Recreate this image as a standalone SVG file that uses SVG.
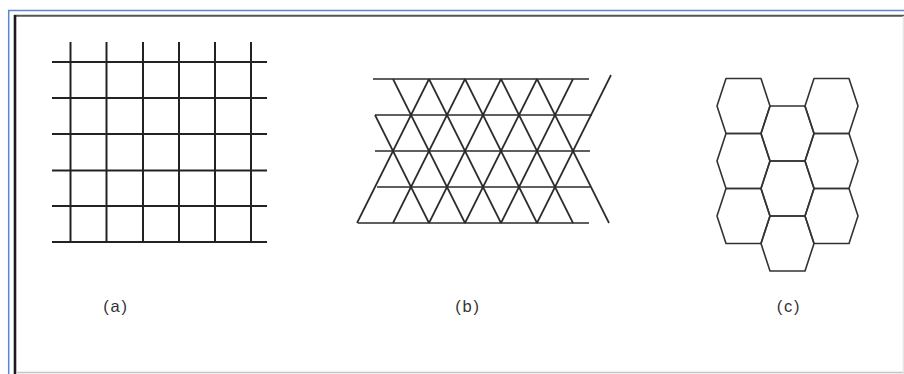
<svg xmlns="http://www.w3.org/2000/svg" width="904" height="374" viewBox="0 0 904 374">
<style>
.sq line{stroke:#222;stroke-width:2;}
.tri line{stroke:#2a2a2a;stroke-width:1.7;}
.hex polygon{fill:none;stroke:#333;stroke-width:1.6;stroke-linejoin:round;}
.lbl{font-family:"Liberation Sans",Arial,sans-serif;font-size:16.5px;fill:#333;letter-spacing:1.8px;text-anchor:middle;}
</style>
<rect width="904" height="374" fill="#fff"/>
<g id="frame" fill="none">
<line x1="8" y1="10.5" x2="904" y2="10.5" stroke="#5b86d6" stroke-width="1.5"/>
<line x1="8.7" y1="10" x2="8.7" y2="374" stroke="#5b86d6" stroke-width="1.5"/>
<line x1="14" y1="15.7" x2="904" y2="15.7" stroke="#555" stroke-width="2"/>
<line x1="15" y1="15" x2="15" y2="374" stroke="#1a1a1a" stroke-width="2.6"/>
<line x1="16" y1="372.5" x2="904" y2="372.5" stroke="#c4c4c4" stroke-width="1.5"/>
<line x1="903.3" y1="16" x2="903.3" y2="374" stroke="#e4e4e4" stroke-width="1.2"/>
</g>
<g id="square-grid" class="sq">
<line x1="70.5" y1="42" x2="70.5" y2="242"/>
<line x1="106.5" y1="42" x2="106.5" y2="242"/>
<line x1="143" y1="42" x2="143" y2="242"/>
<line x1="179" y1="42" x2="179" y2="242"/>
<line x1="215" y1="42" x2="215" y2="242"/>
<line x1="251" y1="42" x2="251" y2="242"/>
<line x1="52" y1="62" x2="267" y2="62"/>
<line x1="52" y1="98" x2="267" y2="98"/>
<line x1="52" y1="134" x2="267" y2="134"/>
<line x1="52" y1="170.5" x2="267" y2="170.5"/>
<line x1="52" y1="206" x2="267" y2="206"/>
<line x1="52" y1="242" x2="267" y2="242"/>
</g>
<g id="triangle-grid" class="tri">
<line x1="373" y1="79" x2="589" y2="79"/>
<line x1="375" y1="115" x2="592" y2="115"/>
<line x1="375" y1="151" x2="590" y2="151"/>
<line x1="377" y1="187" x2="590" y2="187"/>
<line x1="358" y1="223" x2="589" y2="223"/>
<line x1="429" y1="79" x2="357" y2="223"/>
<line x1="465" y1="79" x2="393" y2="223"/>
<line x1="501" y1="79" x2="429" y2="223"/>
<line x1="537" y1="79" x2="465" y2="223"/>
<line x1="573" y1="79" x2="501" y2="223"/>
<line x1="611" y1="75" x2="537" y2="223"/>
<line x1="393" y1="79" x2="465" y2="223"/>
<line x1="429" y1="79" x2="501" y2="223"/>
<line x1="465" y1="79" x2="537" y2="223"/>
<line x1="501" y1="79" x2="573" y2="223"/>
<line x1="537" y1="79" x2="609" y2="223"/>
<line x1="375" y1="115" x2="429" y2="223"/>
</g>
<g id="hex-grid" class="hex">
<polygon points="717,106 726,78.5 761,78.5 770,106 761,133.5 726,133.5"/>
<polygon points="717,161 726,133.5 761,133.5 770,161 761,188.5 726,188.5"/>
<polygon points="717,216 726,188.5 761,188.5 770,216 761,243.5 726,243.5"/>
<polygon points="761,133.5 770,106 805,106 814,133.5 805,161 770,161"/>
<polygon points="761,188.5 770,161 805,161 814,188.5 805,216 770,216"/>
<polygon points="761,243.5 770,216 805,216 814,243.5 805,271 770,271"/>
<polygon points="805,106 814,78.5 849,78.5 858,106 849,133.5 814,133.5"/>
<polygon points="805,161 814,133.5 849,133.5 858,161 849,188.5 814,188.5"/>
<polygon points="805,216 814,188.5 849,188.5 858,216 849,243.5 814,243.5"/>
</g>
<g id="labels">
<text class="lbl" x="116" y="312">(a)</text>
<text class="lbl" x="468" y="312">(b)</text>
<text class="lbl" x="789" y="312">(c)</text>
</g>
</svg>
